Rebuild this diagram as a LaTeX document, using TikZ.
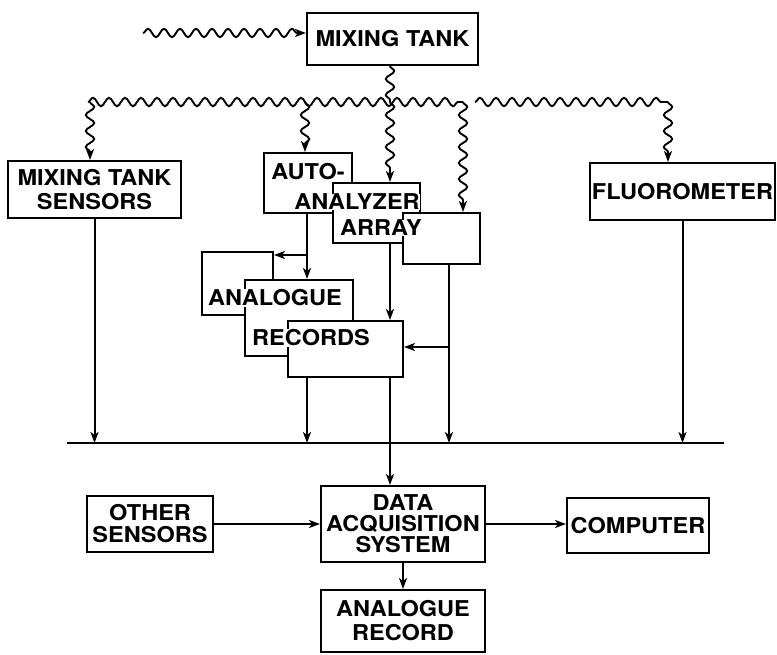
\documentclass[tikz,border=0pt]{standalone}
\usepackage{fontspec}
\setmainfont{TeX Gyre Heros}[FakeStretch=1.08]
\usetikzlibrary{decorations.pathmorphing,arrows.meta}
\newcommand\lettering{\fontsize{21.8}{24}\selectfont\bfseries}
\begin{document}
\begin{tikzpicture}[x=1pt,y=-1pt,
  lw/.style={line width=2pt},
  box/.style={draw, line width=2pt, fill=white, inner sep=0pt, align=center, font=\lettering},
  lbl/.style={fill=white, inner sep=0.3pt, font=\lettering},
  tip/.style={-{Stealth[length=11pt,width=8pt,inset=3pt]}},
  arr/.style={line width=2pt, tip},
  wavy/.style={line width=1.9pt, decorate, decoration={snake, segment length=16pt, amplitude=4.2pt}},
  wavyarr/.style={wavy, decoration={post length=8pt}, tip}
]
\useasboundingbox (0,0) rectangle (777,655);

% boxes
\node[box, minimum width=171pt, minimum height=52pt] (tank) at (392.5,39) {MIXING TANK};
\node[box, minimum width=173pt, minimum height=57pt] (sensors) at (94.5,189.5) {MIXING TANK\\SENSORS};
\node[box, minimum width=185pt, minimum height=57pt] (flu) at (682.5,191.5) {FLUOROMETER};

% auto-analyzer stack
\node[box, minimum width=88pt, minimum height=60pt] (auto) at (308,183) {};
\node[box, minimum width=87pt, minimum height=60pt] (ana) at (376.5,213) {};
\node[box, minimum width=77pt, minimum height=51pt] (arrayb) at (441.5,238.5) {};
\node[lbl] (tAuto) at (308,172) {AUTO-};
\node[lbl] (tAna) at (357,202) {ANALYZER};
\node[lbl] (tArr) at (381,228) {ARRAY};

% analogue records stack
\node[box, minimum width=71pt, minimum height=63pt] (recA) at (237.5,283.5) {};
\node[box, minimum width=108pt, minimum height=76pt] (recB) at (299,318) {};
\node[box, minimum width=115pt, minimum height=56pt] (recC) at (345.5,349) {};
\node[lbl] (tAnl) at (275,298) {ANALOGUE};
\node[lbl] (tRec) at (311,338) {RECORDS};

% lower boxes
\node[box, minimum width=126pt, minimum height=56pt] (oth) at (150,524) {OTHER\\[-2pt]SENSORS};
\node[box, minimum width=164pt, minimum height=76pt] (daq) at (403,524) {DATA\\[-3pt]ACQUISITION\\[-3pt]SYSTEM};
\node[box, minimum width=142pt, minimum height=55pt] (comp) at (638,525.5) {COMPUTER};
\node[box, minimum width=164pt, minimum height=62pt] (rec) at (403,621) {ANALOGUE\\RECORD};

% coordinates
\coordinate (inS) at (143,33);
\coordinate (jT) at (390,102);
\coordinate (wL) at (88,102);
\coordinate (dS) at (90,102);
\coordinate (dA) at (305,102);
\coordinate (wG) at (463,102);
\coordinate (wG2) at (475,102);
\coordinate (wR) at (668,102);
\coordinate (busL) at (67,443);
\coordinate (busR) at (724,443);
\coordinate (c1) at (307,255);
\coordinate (c3) at (449,347);

% wavy connectors
\draw[wavyarr] (inS) -- (inS -| tank.west);
\draw[wavy] (jT |- tank.south) -- (jT);
\draw[wavy] (wL) -- (wG);
\draw[wavy] (wG2) -- (wR);
\draw[wavyarr] (dS) -- (dS |- sensors.north);
\draw[wavyarr] (dA) -- (dA |- auto.north);
\draw[wavyarr] (jT) -- (jT |- ana.north);
\draw[wavyarr] (wG) -- (wG |- arrayb.north);
\draw[wavyarr] (wR) -- (wR |- flu.north);

% straight connectors
\draw[arr] (c1 |- auto.south) -- (c1 |- recB.north);
\draw[arr] (c1) -- (c1 -| recA.east);
\draw[arr] (jT |- ana.south) -- (jT |- recC.north);
\draw[arr] (c3 |- arrayb.south) -- (c3 |- busL);
\draw[arr] (c3) -- (c3 -| recC.east);
\draw[arr] (c1 |- recC.south) -- (c1 |- busL);
\draw[arr] (sensors.south) -- (sensors.south |- busL);
\draw[arr] (flu.south) -- (flu.south |- busL);
\draw[lw] (busL) -- (busR);
\draw[arr] (jT |- recC.south) -- (jT |- daq.north);
\draw[arr] (oth.east) -- (daq.west);
\draw[arr] (daq.east) -- (daq.east -| comp.west);
\draw[arr] (daq.south) -- (rec.north);
\end{tikzpicture}
\end{document}
